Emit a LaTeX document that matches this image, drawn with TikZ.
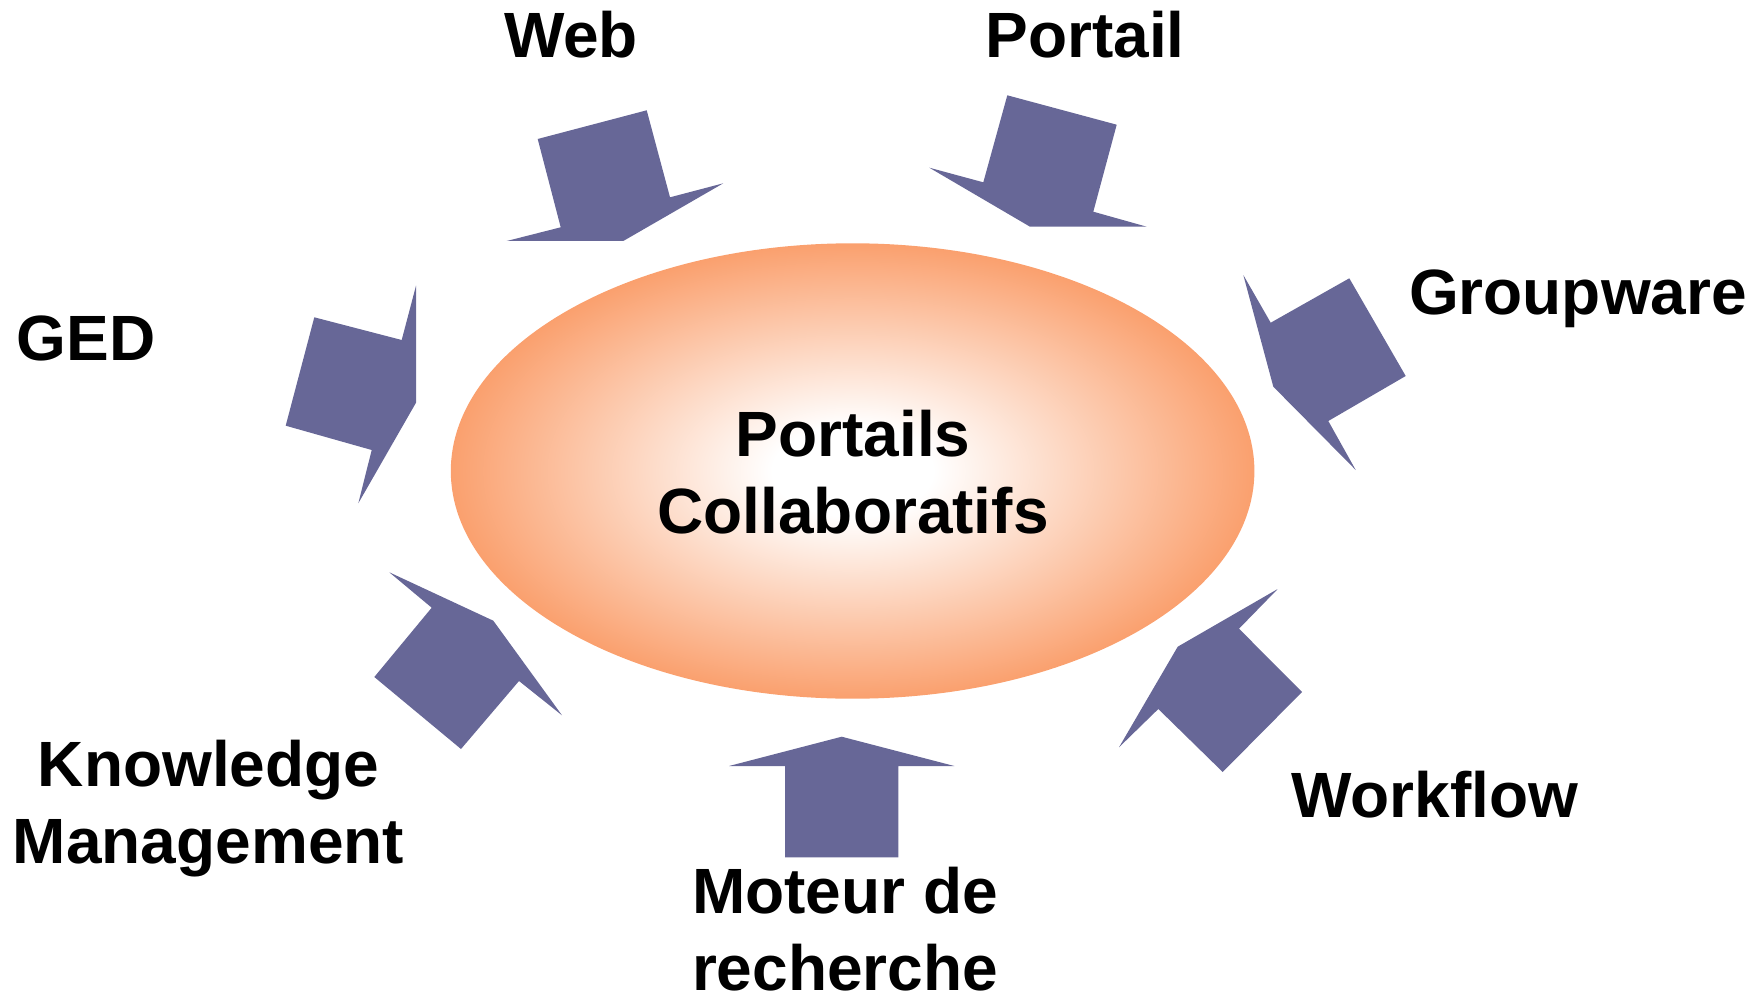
\documentclass[tikz,border=0pt]{standalone}
\usepackage{fontspec}
\setmainfont{Liberation Sans}
\usetikzlibrary{shapes.geometric}
\definecolor{arrowblue}{RGB}{103,103,151}
\definecolor{coreorange}{RGB}{250,160,110}
\pgfdeclareradialshading{coreshade}{\pgfpoint{0bp}{0bp}}{color(0bp)=(white); color(5bp)=(white); color(25bp)=(coreorange); color(50bp)=(coreorange)}
\tikzset{
  lbl/.style={font=\fontsize{64}{77}\selectfont\bfseries, inner sep=0pt, anchor=base, align=center},
  blockarrow/.style={fill=arrowblue, draw=none},
  core/.style={ellipse, minimum width=803.6pt, minimum height=455.4pt, inner sep=0pt, shading=coreshade, draw=none}
}
\begin{document}
\begin{tikzpicture}[x=1pt,y=-1pt]
\useasboundingbox (0,0) rectangle (1760,1000);
% central ellipse
\node[core] (core) at (852.6,471) {};
\node[lbl] (coretxt) at (853,533) {Portails\\Collaboratifs};
% labels
\node[lbl] (web) at (571,57.7) {Web};
\node[lbl] (portail) at (1085,57.7) {Portail};
\node[lbl] (groupware) at (1578,314.5) {Groupware};
\node[lbl] (ged) at (86,360.6) {GED};
\node[lbl] (km) at (208.5,863.3) {Knowledge\\Management};
\node[lbl] (workflow) at (1435,817) {Workflow};
\node[lbl] (moteur) at (845,990) {Moteur de\\recherche};
% block arrows
\fill[blockarrow] (537.7,139) -- (646.7,110.3) -- (670,197.3) -- (723.3,183.3) -- (623.3,241) -- (506.7,241) -- (560.7,227.3) -- cycle;
\fill[blockarrow] (1007.3,95.3) -- (1116.7,124.7) -- (1093.3,211.7) -- (1146.7,226.7) -- (1030,226.7) -- (929.3,167.7) -- (983.3,182.3) -- cycle;
\fill[blockarrow] (1243.3,275) -- (1270.7,322.7) -- (1349.3,278.3) -- (1405.7,376) -- (1328.3,421) -- (1355.7,470) -- (1273.3,386.7) -- cycle;
\fill[blockarrow] (314.3,317.3) -- (401.7,340) -- (416,285.7) -- (416,402.7) -- (358.3,503.3) -- (371.7,450) -- (285.7,425.7) -- cycle;
\fill[blockarrow] (389.3,572.3) -- (493.3,620.7) -- (562,715.3) -- (519,681) -- (461,749) -- (374.3,677) -- (431.7,607.7) -- cycle;
\fill[blockarrow] (1277.7,589) -- (1239,628.7) -- (1302,692) -- (1222.7,772) -- (1158.3,709) -- (1119,747.3) -- (1177.7,646.7) -- cycle;
\fill[blockarrow] (841.7,736.7) -- (954.3,766) -- (898.3,766) -- (898.3,857.3) -- (785,857.3) -- (785,766) -- (729,766) -- cycle;
\end{tikzpicture}
\end{document}
